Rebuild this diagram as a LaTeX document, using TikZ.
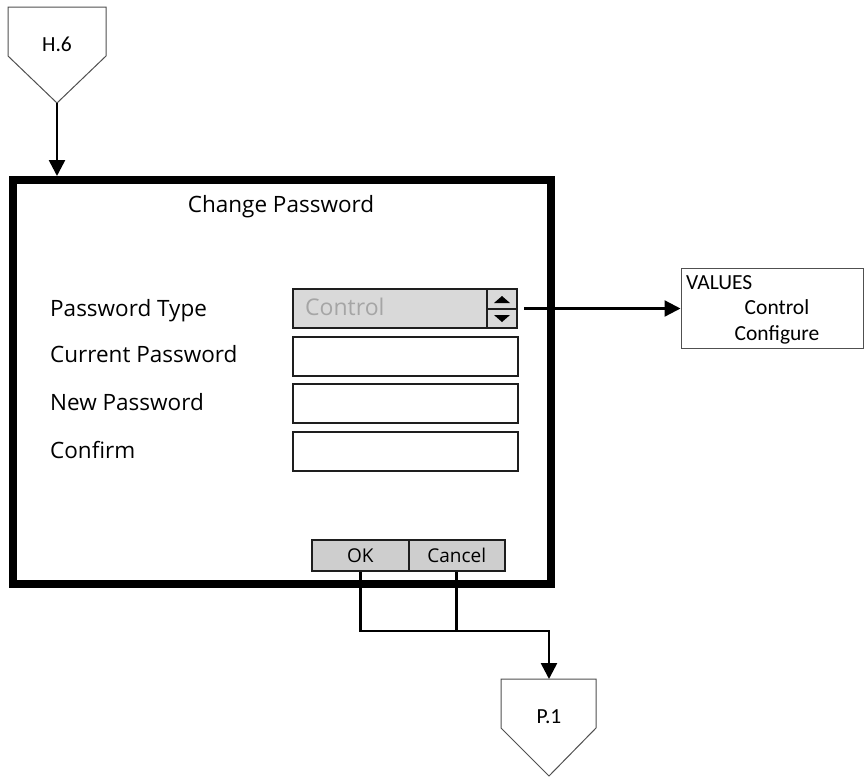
\documentclass[tikz,border=0pt]{standalone}
\usepackage{fontspec}
\setmainfont{Carlito}
\newfontfamily\uifont{Open Sans}
\usetikzlibrary{arrows.meta}
\definecolor{fieldgray}{RGB}{217,217,217}
\definecolor{btngray}{RGB}{206,206,206}
\definecolor{textgray}{RGB}{165,165,165}
\definecolor{edgegray}{RGB}{80,80,80}
\definecolor{boxline}{RGB}{30,30,30}
\begin{document}
\begin{tikzpicture}[x=1pt,y=-1pt,
  pent/.style={draw=edgegray, line width=1pt, fill=white},
  dlgframe/.style={draw=black, line width=8pt, inner sep=0pt, minimum width=538pt, minimum height=404pt},
  field/.style={draw=boxline, line width=2pt, fill=white, inner sep=0pt, minimum width=225pt, minimum height=39pt},
  combobox/.style={draw=boxline, line width=2pt, fill=fieldgray, inner sep=0pt, minimum width=224pt, minimum height=39pt},
  btn/.style={draw=boxline, line width=2pt, fill=btngray, inner sep=0pt, minimum width=96.5pt, minimum height=31pt, font=\uifont\fontsize{19}{23}\selectfont},
  uilabel/.style={anchor=base west, inner sep=0pt, font=\uifont\fontsize{22.5}{27}\selectfont},
  cbtext/.style={font=\fontsize{21.5}{26}\selectfont, inner sep=0pt},
  valbox/.style={draw=edgegray, line width=1pt, inner sep=0pt, minimum width=182pt, minimum height=80pt},
  conn/.style={draw=black, line width=2.6pt, -{Triangle[width=16pt,length=16pt]}},
  plainline/.style={draw=black, line width=2.6pt}
]
\useasboundingbox (0,0) rectangle (865,777);

% H.6 off-page connector
\coordinate (h6tip) at (57,103);
\draw[pent] (8,7) -- (106,7) -- (106,56) -- (h6tip) -- (8,56) -- cycle;
\node[cbtext, anchor=base] (h6) at (57,51) {H.6};

% P.1 off-page connector
\coordinate (p1top) at (549,679);
\draw[pent] (501,679) -- (596,679) -- (596,728) -- (549,776) -- (501,728) -- cycle;
\node[cbtext, anchor=base] (p1) at (549,723) {P.1};

% dialog
\coordinate (busy) at (0,631);
\node[btn] (ok) at (360.25,555.5) {OK};
\node[btn] (cancel) at (456.75,555.5) {Cancel};
\draw[conn] (ok.south) -- (ok.south |- busy) -- (p1top |- busy) -- (p1top);
\draw[plainline] (cancel.south) -- (cancel.south |- busy);

\node[dlgframe] (dlg) at (282,382) {};
\draw[conn] (h6tip) -- (h6tip |- dlg.north);

\node[anchor=base, inner sep=0pt, font=\uifont\fontsize{22.5}{27}\selectfont] (title) at (281,212) {Change Password};

\node[uilabel] (lbltype) at (50,316) {Password Type};
\node[uilabel] (lblcur) at (50,362) {Current Password};
\node[uilabel] (lblnew) at (50,410) {New Password};
\node[uilabel] (lblconf) at (50,458) {Confirm};

\node[combobox] (combo) at (405,308.5) {};
\node[anchor=base west, inner sep=0pt, text=textgray, font=\uifont\fontsize{23}{27}\selectfont] (combotext) at (305,315) {Control};
\draw[boxline, line width=2pt] (487,289) -- (487,328);
\draw[boxline, line width=2pt] (487,309) -- (517,309);
\fill[black] (494,303) -- (510,303) -- (502,296) -- cycle;
\fill[black] (494,315) -- (510,315) -- (502,322) -- cycle;

\node[field] (cur) at (405.5,356.5) {};
\node[field] (new) at (405.5,403.5) {};
\node[field] (conf) at (405.5,451.5) {};

% values box
\node[valbox] (values) at (772,308) {};
\node[cbtext, anchor=base west] (valtitle) at (686,289) {VALUES};
\node[cbtext, anchor=base] (valctrl) at (777,314) {Control};
\node[cbtext, anchor=base] (valconf) at (777,340) {Configure};

\draw[conn, line width=2.3pt] ([xshift=6pt]combo.east) -- (combo.east -| values.west);
\end{tikzpicture}
\end{document}
